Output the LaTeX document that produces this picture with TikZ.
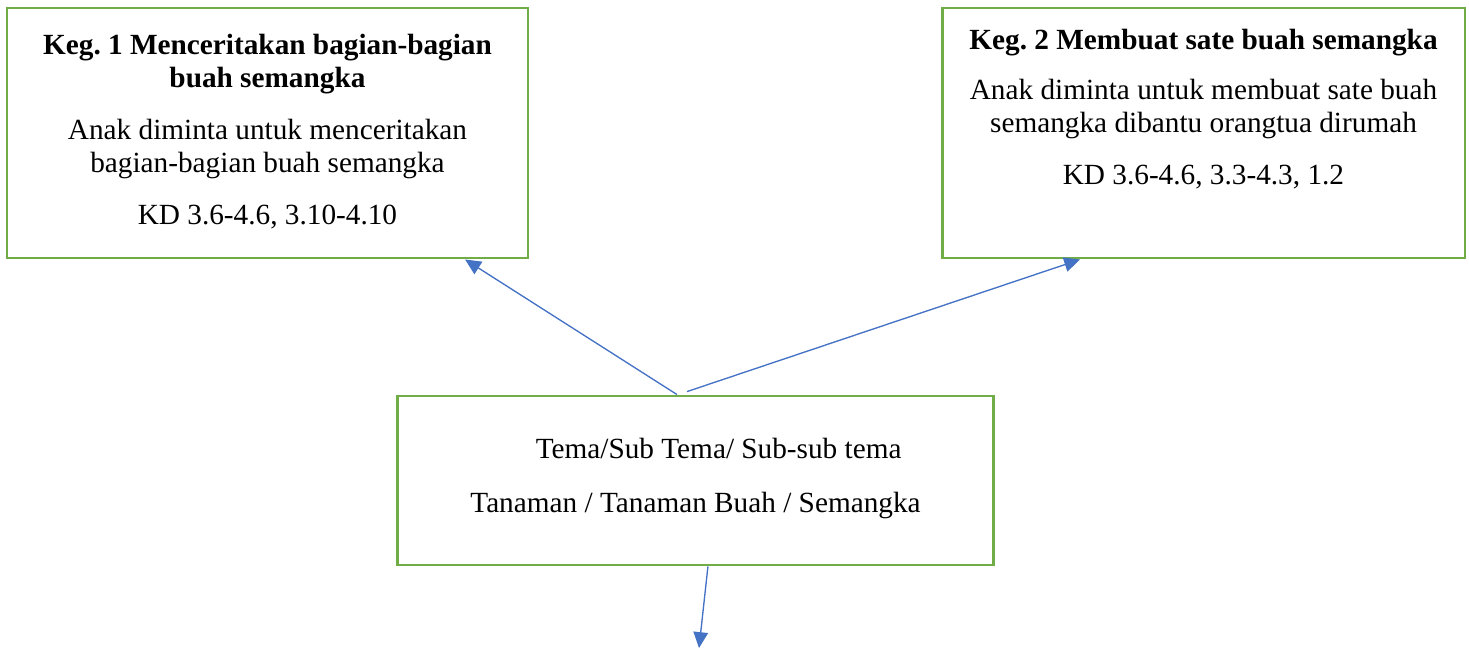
\documentclass[tikz,border=0pt]{standalone}
\usepackage{fontspec}
\setmainfont{Liberation Serif}
\usepackage{xcolor}
\usetikzlibrary{arrows.meta,positioning,calc}

\definecolor{boxgreen}{HTML}{70AD47}
\definecolor{arrowblue}{HTML}{4472C4}

\begin{document}
\frenchspacing
\begin{tikzpicture}[
  x=0.41pt, y=-0.41pt,
  box/.style={rectangle, draw=boxgreen, line width=1.2pt, inner sep=0pt,
    minimum height=102.5pt},
  boxtext/.style={inner sep=0pt, align=center,
    font=\fontsize{12}{13.5}\selectfont},
  arrow/.style={-{Triangle[length=6.5pt, width=6pt]}, draw=arrowblue,
    line width=0.55pt},
]
  \useasboundingbox (0,0) rectangle (1469,649);

  \node[box, minimum width=213.6pt] (keg1) at (267.5,133) {};
  \node[box, minimum width=214.4pt] (keg2) at (1203.5,133) {};
  \node[box, minimum width=244pt, minimum height=69.3pt] (tema) at (695.5,480.5) {};

  \node[boxtext, below=11pt of keg1.north] (keg1txt)
    {\textbf{Keg. 1 Menceritakan bagian-bagian}\\
     \textbf{buah semangka}\\[8pt]
     Anak diminta untuk menceritakan\\
     bagian-bagian buah semangka\\[8pt]
     KD 3.6-4.6, 3.10-4.10};
  \node[boxtext, below=9pt of keg2.north] (keg2txt)
    {\textbf{Keg. 2 Membuat sate buah semangka}\\[7pt]
     Anak diminta untuk membuat sate buah\\
     semangka dibantu orangtua dirumah\\[8pt]
     KD 3.6-4.6, 3.3-4.3, 1.2};
  \node[boxtext, below=17.5pt of tema.north] (tematxt)
    {\hspace*{19pt}Tema/Sub Tema/ Sub-sub tema\\[9pt]
     Tanaman / Tanaman Buah / Semangka};

  \coordinate (next) at (699,648);

  \draw[arrow] ([xshift=-7.6pt]tema.north) -- ([xshift=81pt]keg1.south);
  \draw[arrow] ([xshift=-3.5pt, yshift=1.2pt]tema.north) -- ([xshift=-50.6pt]keg2.south);
  \draw[arrow] ([xshift=5.1pt]tema.south) -- (next);
\end{tikzpicture}
\end{document}
